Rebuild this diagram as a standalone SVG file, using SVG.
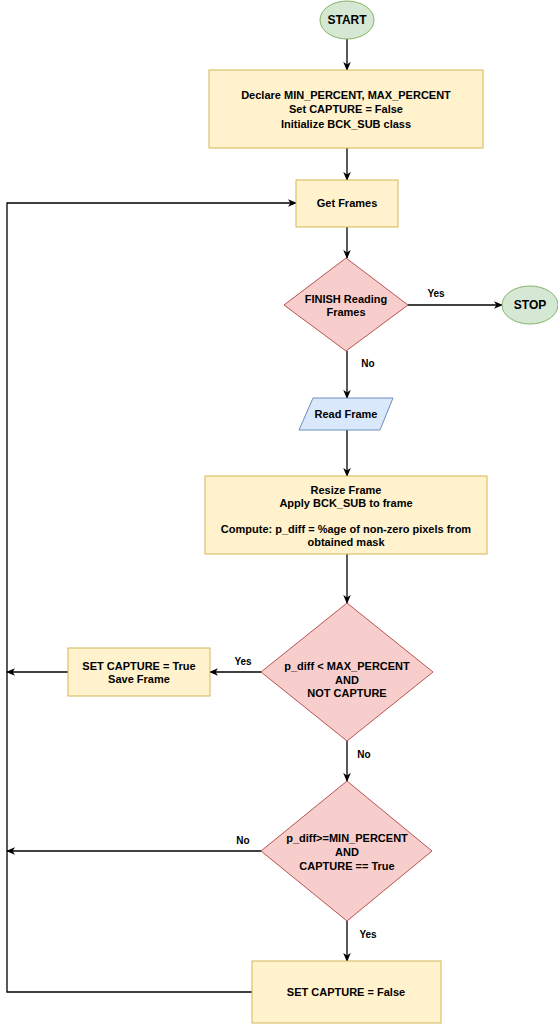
<svg xmlns="http://www.w3.org/2000/svg" width="558" height="1024" viewBox="0 0 558 1024">
<defs>
<marker id="arr" viewBox="0 0 10 10" refX="9" refY="5" markerWidth="9" markerHeight="9" markerUnits="userSpaceOnUse" orient="auto">
<path d="M0,0.8 L10,5 L0,9.2 L2.8,5 z" fill="#000"/>
</marker>
<style>
text{font-family:"Liberation Sans",Arial,Helvetica,sans-serif;font-weight:bold;fill:#000;text-anchor:middle}
.t{font-size:11px}
.big{font-size:12px}
.lbl{font-size:10px}
.term{fill:#d5e8d4;stroke:#82b366;stroke-width:1}
.proc{fill:#fff2cc;stroke:#d6b656;stroke-width:1}
.dec{fill:#f8cecc;stroke:#b85450;stroke-width:1}
.io{fill:#dae8fc;stroke:#6c8ebf;stroke-width:1}
.c{fill:none;stroke:#000;stroke-width:1.3}
.ca{fill:none;stroke:#000;stroke-width:1.3;marker-end:url(#arr)}
</style>
</defs>
<rect width="558" height="1024" fill="#fff"/>
<g id="connectors">
<path class="ca" d="M347,39 L347,70"/>
<path class="ca" d="M347,148 L347,180"/>
<path class="ca" d="M347,227 L347,258"/>
<path class="ca" d="M408,305 L502,305"/>
<path class="ca" d="M347,351 L347,398"/>
<path class="ca" d="M347,430 L347,476"/>
<path class="ca" d="M347,554 L347,603"/>
<path class="ca" d="M262,672 L210,672"/>
<path class="ca" d="M68,672 L7,672"/>
<path class="ca" d="M347,741 L347,781"/>
<path class="ca" d="M261,851 L7,851"/>
<path class="ca" d="M347,921 L347,961"/>
<path class="ca" d="M252,992 L7,992 L7,203 L296,203"/>
<text class="lbl" x="436" y="297">Yes</text>
<text class="lbl" x="368" y="367">No</text>
<text class="lbl" x="243" y="665">Yes</text>
<text class="lbl" x="364" y="758">No</text>
<text class="lbl" x="243" y="844">No</text>
<text class="lbl" x="368" y="938">Yes</text>
</g>
<g id="start">
<ellipse class="term" cx="347" cy="20" rx="27" ry="19"/>
<text class="big" x="347" y="24">START</text>
</g>
<g id="init">
<rect class="proc" x="209" y="70" width="274" height="78"/>
<text class="t" x="346" y="99">Declare MIN_PERCENT, MAX_PERCENT</text>
<text class="t" x="346" y="113">Set CAPTURE = False</text>
<text class="t" x="346" y="128">Initialize BCK_SUB class</text>
</g>
<g id="get-frames">
<rect class="proc" x="296" y="180" width="102" height="47"/>
<text class="t" x="347" y="207">Get Frames</text>
</g>
<g id="finish">
<polygon class="dec" points="346,258 408,305 346,351 284,305"/>
<text class="t" x="346" y="303">FINISH Reading</text>
<text class="t" x="346" y="316">Frames</text>
</g>
<g id="stop">
<ellipse class="term" cx="530" cy="305" rx="28" ry="19"/>
<text class="big" x="530" y="309">STOP</text>
</g>
<g id="read-frame">
<polygon class="io" points="313,398 393,398 380,430 299,430"/>
<text class="t" x="346" y="418">Read Frame</text>
</g>
<g id="resize">
<rect class="proc" x="205" y="476" width="282" height="78"/>
<text class="t" x="346" y="494">Resize Frame</text>
<text class="t" x="346" y="507">Apply BCK_SUB to frame</text>
<text class="t" x="346" y="533">Compute: p_diff = %age of non-zero pixels from</text>
<text class="t" x="346" y="546">obtained mask</text>
</g>
<g id="decision-max">
<polygon class="dec" points="347,603 433,672 347,741 261,672"/>
<text class="t" x="347" y="670">p_diff &lt; MAX_PERCENT</text>
<text class="t" x="347" y="684">AND</text>
<text class="t" x="347" y="697">NOT CAPTURE</text>
</g>
<g id="set-true">
<rect class="proc" x="68" y="648" width="142" height="48"/>
<text class="t" x="139" y="670">SET CAPTURE = True</text>
<text class="t" x="139" y="683">Save Frame</text>
</g>
<g id="decision-min">
<polygon class="dec" points="347,781 432,851 347,921 261,851"/>
<text class="t" x="347" y="842">p_diff&gt;=MIN_PERCENT</text>
<text class="t" x="347" y="856">AND</text>
<text class="t" x="347" y="870">CAPTURE == True</text>
</g>
<g id="set-false">
<rect class="proc" x="252" y="961" width="189" height="62"/>
<text class="t" x="346" y="996">SET CAPTURE = False</text>
</g>
</svg>
